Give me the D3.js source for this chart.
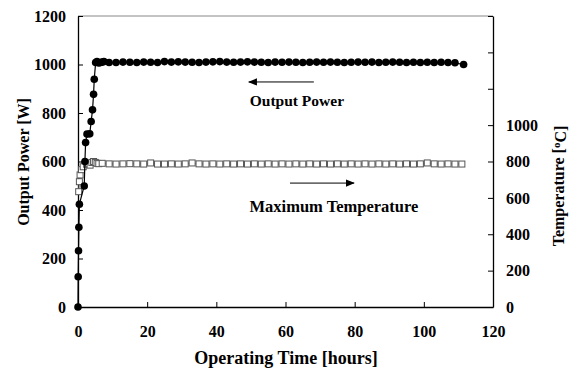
<!DOCTYPE html>
<html>
<head>
<meta charset="utf-8">
<script src="https://cdn.jsdelivr.net/npm/d3@7"></script>
<style>
  body { margin: 0; background: #fff; }
  text { font-family: "Liberation Serif", "Times New Roman", serif; font-weight: bold; }
</style>
</head>
<body>
<div id="container"></div>
<script>
// output power [W] vs operating time [hours]
var powerTime = [0, 0.05, 0.15, 0.25, 0.4, 1.8, 2.0, 2.2, 2.6, 3.4, 3.8, 4.2, 4.5, 4.7, 5.1,
  5.5, 6.0, 6.5, 7.0, 7.5, 9, 11, 13, 15, 17, 19, 21, 23, 25, 27, 29, 31, 33, 35, 37, 39, 41,
  43, 45, 47, 49, 51, 53, 55, 57, 59, 61, 63, 65, 67, 69, 71, 73, 75, 77, 79, 81, 83, 85, 87,
  89, 91, 93, 95, 97, 99, 101, 103, 105, 107, 109, 111.5];
var powerValue = [0, 125, 232, 329, 424, 499, 600, 678, 713, 714, 765, 813, 877, 939, 1008,
  1012, 1006, 1008, 1010, 1012, 1008, 1008, 1010, 1009, 1008, 1010, 1009, 1008, 1012, 1010, 1011, 1010, 1009, 1008, 1010, 1011, 1012,
  1010, 1009, 1010, 1011, 1010, 1009, 1008, 1010, 1009, 1010, 1009, 1008, 1009, 1010, 1009, 1010, 1009, 1008, 1009, 1010, 1009, 1010, 1008,
  1009, 1010, 1009, 1008, 1009, 1008, 1009, 1008, 1009, 1008, 1007, 1000];

// maximum temperature [°C] vs operating time [hours]
var tempTime = [0.2, 0.4, 0.6, 1.0, 1.5, 2.5, 3.0, 3.5, 4.0, 4.5, 5.0, 5.5, 6.0, 7.0,
  9, 11, 13, 15, 17, 19, 21, 23, 25, 27, 29, 31, 33, 35, 37, 39, 41, 43, 45, 47, 49, 51, 53,
  55, 57, 59, 61, 63, 65, 67, 69, 71, 73, 75, 77, 79, 81, 83, 85, 87, 89, 91, 93, 95, 97, 99,
  101, 103, 105, 107, 109, 111];
var tempValue = [634, 689, 726, 755, 771, 785, 790, 780, 795, 800, 795, 790, 788, 790,
  787, 786, 787, 788, 787, 786, 792, 786, 786, 787, 786, 787, 792, 787, 786, 787, 786, 787, 786, 787, 786, 787, 786,
  787, 786, 787, 786, 787, 786, 787, 786, 787, 786, 787, 786, 787, 786, 787, 786, 787, 786, 787, 786, 787, 786, 787,
  792, 787, 786, 787, 786, 786];

var xTicks = [0, 20, 40, 60, 80, 100, 120];
var powerTicks = [0, 200, 400, 600, 800, 1000, 1200];
var tempTicks = [0, 200, 400, 600, 800, 1000, 1200, 1400, 1600];

var margin = {left: 78, right: 83, top: 16, bottom: 64};
var width = 576, height = 371;
var w = width - margin.left - margin.right, h = height - margin.top - margin.bottom;

var svg = d3.select("#container").append("svg")
  .attr("width", width).attr("height", height);
var g = svg.append("g").attr("transform", "translate(" + margin.left + "," + margin.top + ")");

var x = d3.scaleLinear().domain([0, 120]).range([0, w]);
var yP = d3.scaleLinear().domain([0, 1200]).range([h, 0]);
var yT = d3.scaleLinear().domain([0, 1600]).range([h, 0]);

// top frame line
g.append("line").attr("x1", 0).attr("x2", w).attr("y1", 0).attr("y2", 0)
  .attr("stroke", "#888").attr("stroke-width", 1);

var fontSize = "16px";
var fmt = d3.format("d");

var xAxis = g.append("g").attr("transform", "translate(0," + h + ")")
  .call(d3.axisBottom(x).tickValues(xTicks).tickFormat(fmt).tickSizeInner(-5).tickSizeOuter(0).tickPadding(19));
var lAxis = g.append("g")
  .call(d3.axisLeft(yP).tickValues(powerTicks).tickFormat(fmt).tickSizeInner(-5).tickSizeOuter(0).tickPadding(12));
var rAxis = g.append("g").attr("transform", "translate(" + w + ",0)")
  .call(d3.axisRight(yT).tickValues(tempTicks).tickSizeInner(-5).tickSizeOuter(0).tickPadding(13)
    .tickFormat(function (d) { return d <= 1000 ? fmt(d) : ""; }));

[xAxis, lAxis, rAxis].forEach(function (a) {
  a.select(".domain").attr("stroke", "#000").attr("stroke-width", 1.3);
  a.selectAll("text").style("font-size", fontSize).attr("fill", "#000");
});

// temperature series
var tempData = tempTime.map(function (t, i) { return [t, tempValue[i]]; });
g.append("path").datum(tempData)
  .attr("fill", "none").attr("stroke", "#777").attr("stroke-width", 1)
  .attr("d", d3.line().x(function (d) { return x(d[0]); }).y(function (d) { return yT(d[1]); }));
g.selectAll(".sq").data(tempData).enter().append("rect")
  .attr("x", function (d) { return x(d[0]) - 3; })
  .attr("y", function (d) { return yT(d[1]) - 3; })
  .attr("width", 6).attr("height", 6)
  .attr("fill", "#fff").attr("stroke", "#555").attr("stroke-width", 1);

// power series
var powerData = powerTime.map(function (t, i) { return [t, powerValue[i]]; });
g.append("path").datum(powerData)
  .attr("fill", "none").attr("stroke", "#000").attr("stroke-width", 1.2)
  .attr("d", d3.line().x(function (d) { return x(d[0]); }).y(function (d) { return yP(d[1]); }));
g.selectAll(".dot").data(powerData).enter().append("circle")
  .attr("cx", function (d) { return x(d[0]); })
  .attr("cy", function (d) { return yP(d[1]); })
  .attr("r", 3.8).attr("fill", "#000");

// annotations
svg.append("defs").append("marker")
  .attr("id", "head").attr("viewBox", "0 0 10 10").attr("refX", 9).attr("refY", 5)
  .attr("markerWidth", 9).attr("markerHeight", 9).attr("markerUnits", "userSpaceOnUse")
  .attr("orient", "auto")
  .append("path").attr("d", "M0,1 L10,5 L0,9 Z").attr("fill", "#000");

g.append("line")
  .attr("x1", x(68.2)).attr("x2", x(49.4)).attr("y1", yP(928)).attr("y2", yP(928))
  .attr("stroke", "#000").attr("stroke-width", 1).attr("marker-end", "url(#head)");
g.append("text").attr("x", x(63.3)).attr("y", yP(829)).attr("text-anchor", "middle")
  .style("font-size", "15.5px").text("Output Power");

g.append("line")
  .attr("x1", x(61.3)).attr("x2", x(79.8)).attr("y1", yP(511)).attr("y2", yP(511))
  .attr("stroke", "#000").attr("stroke-width", 1).attr("marker-end", "url(#head)");
g.append("text").attr("x", x(74)).attr("y", yP(392)).attr("text-anchor", "middle")
  .style("font-size", "16.5px").text("Maximum Temperature");

// axis titles
svg.append("text").attr("x", 286).attr("y", 364).attr("text-anchor", "middle")
  .style("font-size", "18px").text("Operating Time [hours]");
svg.append("text").attr("transform", "translate(29,162) rotate(-90)").attr("text-anchor", "middle")
  .style("font-size", "16px").text("Output Power [W]");
var rt = svg.append("text").attr("transform", "translate(564,186) rotate(-90)").attr("text-anchor", "middle")
  .style("font-size", "16px");
rt.append("tspan").text("Temperature [");
rt.append("tspan").attr("dy", "-0.4em").style("font-size", "11px").text("o");
rt.append("tspan").attr("dy", "0.4em").text("C]");
</script>
</body>
</html>
